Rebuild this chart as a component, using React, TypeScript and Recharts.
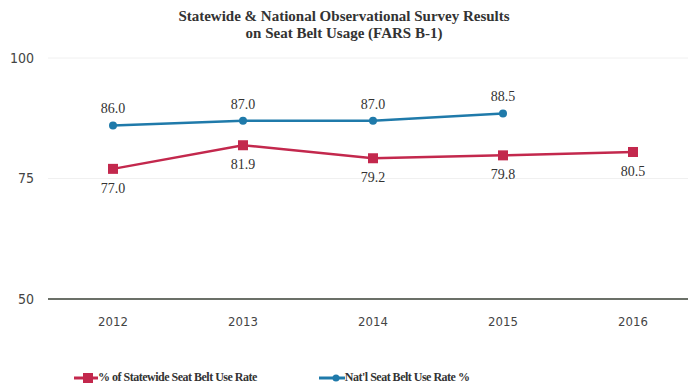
import React from "react";
import { LineChart, Line, XAxis, YAxis, CartesianGrid, LabelList } from "recharts";

const years = ["2012", "2013", "2014", "2015", "2016"];
const statewide = [77.0, 81.9, 79.2, 79.8, 80.5];
const national: (number | null)[] = [86.0, 87.0, 87.0, 88.5, null];
const yTicks = [50, 75, 100];

const data = years.map((y, i) => ({ year: y, state: statewide[i], nat: national[i] }));

const RED = "#c3284d";
const BLUE = "#1f7aaa";

const Square = (props: any) => {
  const { cx, cy } = props;
  if (cx == null || cy == null) return null;
  return <rect x={cx - 5} y={cy - 5} width={10} height={10} fill={RED} />;
};
const Dot = (props: any) => {
  const { cx, cy } = props;
  if (cx == null || cy == null || props.value == null) return null;
  return <circle cx={cx} cy={cy} r={4} fill={BLUE} />;
};

const labelStyle = { fontFamily: "'Liberation Serif', serif", fontSize: 14, fill: "#333" };

const fmt = (v: any) => (v == null ? "" : Number(v).toFixed(1));

export default function App() {
  return (
    <div style={{ position: "absolute", left: 0, top: 0, width: 688, height: 387, overflow: "hidden", background: "#fff" }}>
      <div
        style={{
          position: "absolute",
          left: 0,
          top: 8,
          width: 688,
          textAlign: "center",
          fontFamily: "'Liberation Serif', serif",
          fontWeight: "bold",
          fontSize: 15,
          lineHeight: "17px",
          color: "#333",
        }}
      >
        <div>Statewide &amp; National Observational Survey Results</div>
        <div>on Seat Belt Usage (FARS B-1)</div>
      </div>
      <LineChart width={700} height={387} data={data} margin={{ top: 58, right: 2, bottom: 58, left: 0 }}>
        <CartesianGrid horizontal={true} vertical={false} stroke="#f0f0f0" />
        <XAxis
          dataKey="year"
          height={30}
          padding={{ left: 65, right: 65 }}
          tickLine={false}
          axisLine={{ stroke: "#6b7068", strokeWidth: 2 }}
          tick={{ fontFamily: "'DejaVu Sans Condensed', 'DejaVu Sans', sans-serif", fontSize: 13, fill: "#444" }}
          tickMargin={12}
        />
        <YAxis
          width={48}
          domain={[50, 100]}
          ticks={yTicks}
          axisLine={false}
          tickLine={false}
          tick={{ fontFamily: "'DejaVu Sans Condensed', 'DejaVu Sans', sans-serif", fontSize: 14, fill: "#444" }}
          tickMargin={8}
        />
        <Line
          dataKey="state"
          stroke={RED}
          strokeWidth={2.5}
          dot={<Square />}
          isAnimationActive={false}
        >
          <LabelList dataKey="state" position="bottom" offset={14} formatter={fmt} style={labelStyle} />
        </Line>
        <Line
          dataKey="nat"
          stroke={BLUE}
          strokeWidth={2.5}
          dot={<Dot />}
          connectNulls={false}
          isAnimationActive={false}
        >
          <LabelList dataKey="nat" position="top" offset={12} formatter={fmt} style={labelStyle} />
        </Line>
      </LineChart>
      <div
        style={{
          position: "absolute",
          top: 370,
          left: 74,
          display: "flex",
          alignItems: "center",
          fontFamily: "'Liberation Serif', serif",
          fontWeight: "bold",
          fontSize: 12,
          letterSpacing: -0.5,
          color: "#333",
          whiteSpace: "nowrap",
        }}
      >
        <svg width={24} height={12} style={{ marginRight: 0 }}>
          <line x1={0} y1={6} x2={24} y2={6} stroke={RED} strokeWidth={3} />
          <rect x={9} y={1} width={10} height={10} fill={RED} />
        </svg>
        <span>% of Statewide Seat Belt Use Rate</span>
        <svg width={26} height={12} style={{ marginLeft: 62, marginRight: 0 }}>
          <line x1={0} y1={6} x2={26} y2={6} stroke={BLUE} strokeWidth={3} />
          <circle cx={17} cy={6} r={3.5} fill={BLUE} />
        </svg>
        <span>Nat'l Seat Belt Use Rate %</span>
      </div>
    </div>
  );
}
